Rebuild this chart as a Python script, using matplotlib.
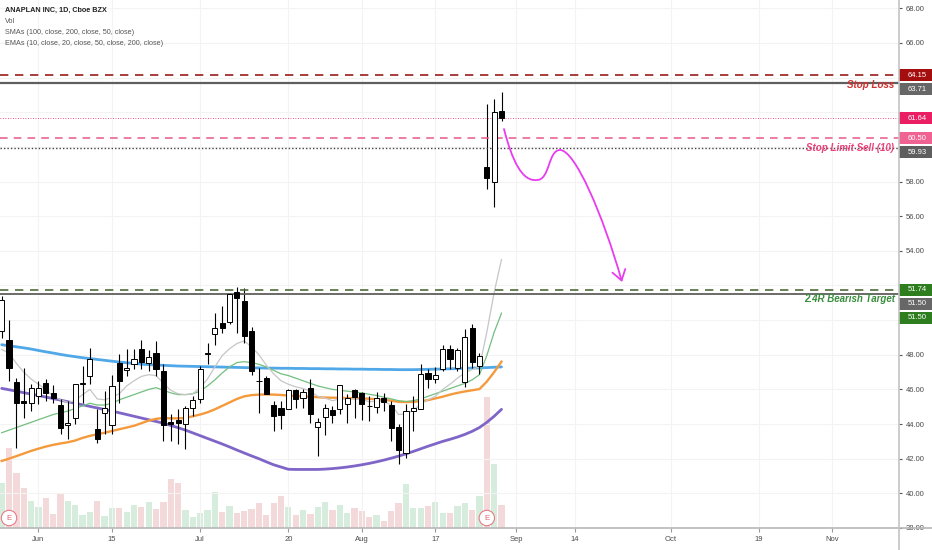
import numpy as np
import matplotlib.pyplot as plt
import matplotlib.transforms as mtransforms
from matplotlib.patches import Rectangle, FancyArrowPatch
from matplotlib.path import Path
from matplotlib.lines import Line2D

plt.rcParams['font.family'] = ['Liberation Sans', 'DejaVu Sans']

# ---- daily bars (22 May .. 28 Aug 2020), one entry per trading day ----
opens = [49.36, 48.84, 46.42, 45.33, 45.19, 45.62, 46.38, 45.77, 45.10, 43.94,
         44.37, 46.33, 46.77, 43.70, 44.66, 43.94, 47.54, 47.10, 47.48, 48.36,
         47.54, 48.08, 47.06, 44.12, 44.21, 44.02, 44.94, 45.46, 48.06, 49.21,
         49.84, 49.88, 51.63, 51.09, 49.40, 46.50, 46.67, 45.08, 44.94, 44.88,
         45.96, 45.52, 46.06, 43.85, 44.41, 44.79, 44.85, 45.14, 45.94, 45.81,
         45.06, 45.00, 45.52, 45.10, 43.83, 42.31, 44.75, 44.85, 46.92, 46.58,
         47.15, 48.31, 47.21, 46.42, 49.55, 47.34, 58.82, 57.95, 62.08]
highs = [51.40, 50.03, 46.67, 47.25, 46.29, 46.48, 46.58, 46.23, 45.42, 45.33,
         46.30, 47.35, 48.40, 44.85, 45.90, 46.86, 48.02, 48.34, 48.34, 48.88,
         48.30, 48.82, 47.44, 44.56, 44.85, 45.04, 45.62, 47.35, 48.69, 50.42,
         50.80, 51.57, 51.90, 51.86, 49.60, 47.25, 46.77, 45.33, 45.33, 46.00,
         46.00, 46.00, 46.58, 44.37, 45.14, 45.04, 46.25, 45.71, 46.00, 45.87,
         45.62, 45.85, 45.81, 45.33, 43.98, 45.14, 45.62, 47.44, 47.15, 47.29,
         48.56, 48.56, 48.40, 49.46, 49.78, 48.11, 62.47, 62.76, 63.16]
lows = [48.98, 46.48, 42.64, 44.37, 44.75, 45.14, 45.33, 45.23, 43.41, 43.12,
        43.98, 45.23, 46.29, 42.93, 43.41, 43.41, 45.23, 46.77, 47.15, 47.15,
        47.06, 46.77, 43.02, 43.02, 42.83, 42.54, 44.46, 45.23, 47.44, 48.59,
        49.26, 49.75, 49.27, 48.69, 46.86, 44.66, 45.71, 43.60, 43.70, 44.85,
        44.94, 44.90, 44.08, 42.16, 43.37, 44.08, 44.60, 44.08, 44.37, 44.21,
        44.18, 44.66, 44.75, 43.02, 41.68, 42.06, 43.60, 44.85, 46.10, 46.38,
        47.06, 47.15, 47.06, 46.13, 47.25, 46.90, 57.58, 56.51, 61.47]
closes = [51.19, 47.25, 45.19, 45.19, 46.06, 46.06, 45.81, 45.52, 43.79, 44.08,
          46.29, 46.38, 47.73, 43.16, 44.94, 46.19, 46.48, 47.25, 47.77, 47.60,
          47.86, 47.15, 43.94, 44.02, 44.08, 44.90, 45.39, 47.15, 48.10, 49.55,
          49.55, 51.48, 51.28, 49.07, 47.06, 46.46, 45.75, 44.46, 44.50, 45.94,
          45.46, 45.85, 44.56, 44.14, 44.90, 44.52, 46.25, 45.48, 45.56, 45.14,
          45.02, 45.48, 45.29, 43.79, 42.48, 44.75, 44.90, 46.90, 46.58, 46.83,
          48.31, 47.73, 48.25, 49.02, 47.60, 47.92, 58.20, 61.99, 61.64]
# volume, millions of shares
volume = [4.5, 8.0, 5.5, 4.0, 2.7, 2.1, 3.0, 1.4, 3.4, 2.7,
          2.3, 1.3, 1.6, 2.7, 1.2, 2.0, 2.0, 1.6, 2.3, 2.1,
          2.6, 1.9, 2.6, 4.9, 4.5, 1.8, 1.1, 1.5, 1.8, 3.6,
          1.6, 2.2, 1.5, 1.7, 1.9, 2.5, 1.3, 2.5, 3.2, 2.1,
          1.3, 1.8, 1.4, 2.1, 2.6, 1.8, 2.3, 1.5, 2.0, 1.7,
          1.1, 1.3, 0.7, 1.7, 2.5, 4.4, 2.0, 2.0, 2.2, 2.6,
          1.5, 1.5, 2.2, 2.5, 1.8, 3.2, 13.1, 6.4, 2.3]

# moving averages
sma_blue = [48.58, 48.52, 48.46, 48.40, 48.33, 48.25, 48.17, 48.10, 48.02, 47.95,
            47.89, 47.83, 47.78, 47.73, 47.68, 47.63, 47.58, 47.54, 47.50, 47.46,
            47.43, 47.41, 47.39, 47.37, 47.35, 47.34, 47.33, 47.32, 47.31, 47.30,
            47.29, 47.28, 47.27, 47.26, 47.25, 47.24, 47.23, 47.23, 47.22, 47.22,
            47.21, 47.21, 47.20, 47.20, 47.19, 47.19, 47.18, 47.18, 47.17, 47.17,
            47.16, 47.16, 47.15, 47.15, 47.14, 47.14, 47.14, 47.15, 47.16, 47.17,
            47.18, 47.19, 47.20, 47.22, 47.23, 47.24, 47.26, 47.28, 47.30]
sma_purple = [46.06, 45.98, 45.90, 45.81, 45.73, 45.65, 45.56, 45.47, 45.38, 45.29,
              45.20, 45.11, 45.02, 44.93, 44.84, 44.75, 44.65, 44.55, 44.45, 44.35,
              44.25, 44.15, 44.05, 43.92, 43.79, 43.65, 43.49, 43.33, 43.17, 43.01,
              42.85, 42.68, 42.50, 42.33, 42.16, 42.00, 41.82, 41.65, 41.52, 41.39,
              41.38, 41.38, 41.38, 41.38, 41.40, 41.43, 41.47, 41.52, 41.58, 41.65,
              41.73, 41.82, 41.92, 42.03, 42.15, 42.28, 42.42, 42.57, 42.72, 42.86,
              43.00, 43.12, 43.25, 43.40, 43.58, 43.80, 44.10, 44.45, 44.85]
ema_orange = [41.87, 42.00, 42.15, 42.30, 42.45, 42.58, 42.70, 42.80, 42.88, 42.95,
              43.05, 43.20, 43.32, 43.41, 43.50, 43.60, 43.70, 43.80, 43.90, 44.05,
              44.20, 44.30, 44.35, 44.33, 44.33, 44.35, 44.45, 44.55, 44.68, 44.85,
              45.05, 45.25, 45.45, 45.60, 45.67, 45.70, 45.71, 45.70, 45.68, 45.65,
              45.62, 45.60, 45.58, 45.55, 45.53, 45.52, 45.52, 45.50, 45.50, 45.48,
              45.46, 45.43, 45.40, 45.35, 45.28, 45.27, 45.28, 45.32, 45.38, 45.48,
              45.58, 45.70, 45.80, 45.88, 45.95, 46.02, 46.45, 47.00, 47.60]
ema_green = [43.50, 43.65, 43.80, 43.95, 44.10, 44.25, 44.40, 44.55, 44.65, 44.75,
             44.90, 45.05, 45.20, 45.10, 45.10, 45.20, 45.40, 45.55, 45.70, 45.85,
             46.00, 46.10, 45.95, 45.80, 45.70, 45.70, 45.75, 45.90, 46.20, 46.55,
             46.95, 47.30, 47.55, 47.60, 47.55, 47.45, 47.30, 47.10, 46.90, 46.80,
             46.65, 46.50, 46.35, 46.20, 46.10, 46.00, 45.95, 45.90, 45.85, 45.80,
             45.72, 45.65, 45.55, 45.45, 45.35, 45.30, 45.35, 45.45, 45.60, 45.75,
             45.90, 46.05, 46.20, 46.35, 46.55, 46.85, 47.95, 49.30, 50.40]
ema_gray = [48.30, 48.10, 47.50, 47.00, 46.60, 46.30, 46.00, 45.60, 45.40, 45.25,
            45.35, 45.70, 46.00, 45.45, 45.40, 45.55, 45.75, 46.20, 46.50, 46.75,
            46.85, 46.80, 46.35, 45.95, 45.75, 45.70, 45.75, 46.10, 46.60, 47.30,
            47.95, 48.35, 48.65, 48.80, 48.45, 48.00, 47.40, 46.90, 46.50, 46.30,
            46.15, 46.05, 45.90, 45.60, 45.50, 45.35, 45.45, 45.45, 45.45, 45.40,
            45.30, 45.30, 45.30, 45.10, 44.55, 44.60, 44.80, 45.15, 45.40, 45.60,
            46.00, 46.30, 46.65, 46.95, 47.15, 47.30, 49.30, 51.60, 53.50]

earnings_bars = [1, 66]

tick_pos = [5, 15, 27, 39, 49, 59, 70, 78, 91, 103, 113]
tick_txt = ['Jun', '15', 'Jul', '20', 'Aug', '17', 'Sep', '14', 'Oct', '19', 'Nov']
price_ticks = np.arange(38, 69, 2)

# horizontal levels: value, line colour, style, width, axis label colour
levels = [
    (64.15, '#9a1c1c', (0, (5, 4)), 1.2, '#a50e0e'),
    (63.71, '#5f5f5f', '-', 1.6, '#676767'),
    (61.64, '#e91e63', (0, (1, 2)), 0.6, '#e91e63'),
    (60.50, '#e8588c', (0, (5, 4)), 1.1, '#f06292'),
    (59.93, '#444444', (0, (1, 1.5)), 1.0, '#5e5e5e'),
    (51.74, '#4f6b3c', (0, (5, 4)), 1.2, '#2e7d1f'),
    (51.50, '#5f5f5f', '-', 1.3, '#676767'),
]
extra_label = (51.50, '#2e7d1f')

# hand drawn projection arrow (bar index, price)
arrow_pts = [(68.34, 61.03), (69.43, 59.24), (70.79, 57.97), (72.83, 58.09),
             (74.60, 58.09), (74.33, 59.82), (75.96, 59.82),
             (78.00, 59.82), (81.81, 56.07), (84.40, 52.20)]

W, H = 932, 550
plot_w, plot_h, plot_b = 899, 528, 22
fig = plt.figure(figsize=(W / 100, H / 100), dpi=100)
rect = [0, plot_b / H, plot_w / W, plot_h / H]
axv = fig.add_axes(rect)
ax = fig.add_axes(rect)
ax.set_facecolor('none')

bar_px = 7.35
xlim = (-1.7 / bar_px, (plot_w - 1.7) / bar_px)
ylim = (38.0, 68.48)
px_per = plot_h / (ylim[1] - ylim[0])
idx = np.arange(len(opens))
o = np.array(opens); h = np.array(highs); l = np.array(lows); c = np.array(closes)
up = c >= o

# volume pane
axv.set_xlim(xlim)
axv.set_ylim(0, max(volume) * plot_h / 131)
axv.bar(idx, volume, width=0.85, color=np.where(up, '#d6ecdd', '#f4d9da'), zorder=1)
axv.axis('off')

ax.set_xlim(xlim)
ax.set_ylim(ylim)

# moving averages
ax.plot(idx, sma_purple, color='#7f65c8', lw=2.0, zorder=2, solid_capstyle='round')
ax.plot(idx, sma_blue, color='#50a8e8', lw=2.0, zorder=2, solid_capstyle='round')
ax.plot(idx, ema_orange, color='#f59a3c', lw=1.7, zorder=2)
ax.plot(idx, ema_green, color='#72bf80', lw=0.9, zorder=2)
ax.plot(idx, ema_gray, color='#c6c6c6', lw=0.9, zorder=2)

# candles
body_lo = np.minimum(o, c)
body_hi = np.maximum(o, c)
ax.vlines(idx, l, body_lo, color='black', lw=0.8, zorder=3)
ax.vlines(idx, body_hi, h, color='black', lw=0.8, zorder=3)
ax.bar(idx, body_hi - body_lo, bottom=body_lo, width=0.7,
       color=np.where(up, 'white', 'black'), edgecolor='black', linewidth=0.7, zorder=4)

# level lines
for val, col, ls, lw, _ in levels:
    ax.axhline(val, color=col, ls=ls, lw=lw, zorder=3)

blend = mtransforms.blended_transform_factory(ax.transAxes, ax.transData)

def shifted(dy_px):
    return blend + mtransforms.ScaledTranslation(0, -dy_px / 100, fig.dpi_scale_trans)

txt_kw = dict(fontsize=7, fontweight='bold', fontstyle='italic', ha='right', va='center', zorder=6)
ax.text(0.9944, 63.71, 'Stop Loss', color='#d32f2f', transform=shifted(2.5), **txt_kw)
ax.text(0.9944, 59.93, 'Stop Limit Sell (10)', color='#ec407a', transform=blend, **txt_kw)
ax.text(0.9955, 51.50, '2.4R Bearish Target', color='#388e3c', transform=shifted(5), **txt_kw)

# arrow
codes = [Path.MOVETO] + [Path.CURVE4] * (len(arrow_pts) - 1)
arrow = FancyArrowPatch(path=Path(arrow_pts, codes), arrowstyle='->,head_length=0.45,head_width=0.3',
                        mutation_scale=16, color='#e83cf0', lw=1.3, zorder=5)
ax.add_patch(arrow)

# earnings markers
bottom_blend = mtransforms.blended_transform_factory(ax.transData, ax.transAxes)
for e in earnings_bars:
    ax.text(e, 10 / plot_h, 'E', transform=bottom_blend, ha='center', va='center', fontsize=5.5,
            color='#e06070', zorder=6,
            bbox=dict(boxstyle='circle,pad=0.55', fc='white', ec='#e57b86', lw=0.8))

# price labels on the scale, pushed down when they overlap
box_h = 12 / px_per
labels = [(v, lc) for v, _, _, _, lc in levels] + [extra_label]
labels.sort(key=lambda t: -t[0])
prev_y = -100
box_centres = []
for val, col in labels:
    y_px = (ylim[1] - val) * px_per
    y_draw = max(y_px, prev_y + 14)
    prev_y = y_draw
    box_centres.append(y_draw)
    tr = shifted(y_draw - y_px)
    ax.add_patch(Rectangle((1.0, val - box_h / 2), (W - plot_w) / plot_w, box_h, transform=tr,
                           clip_on=False, fc=col, ec='none', zorder=7))
    ax.text(1.0 + (W - plot_w) / plot_w / 2 + 0.002, val, '%.2f' % val, transform=tr, ha='center',
            va='center', fontsize=5.5, color='white', zorder=8, clip_on=False)

# scale labels hidden behind the price boxes are left blank
tick_lbl = []
for t in price_ticks:
    t_px = (ylim[1] - t) * px_per
    covered = any(abs(t_px - bc) < 11 for bc in box_centres)
    tick_lbl.append('' if covered else '%.2f' % t)

# axes styling
ax.set_yticks(price_ticks, tick_lbl)
ax.yaxis.tick_right()
ax.set_xticks(tick_pos, tick_txt)
ax.tick_params(axis='y', length=2.5, pad=2.5, labelsize=5.5, colors='#555555', labelcolor='#4a4a4a')
ax.tick_params(axis='x', length=3, pad=3, labelsize=5.5, colors='#999999', labelcolor='#4a4a4a')
ax.grid(True, color='#f3f3f3', lw=0.8)
for s in ['left', 'top', 'right', 'bottom']:
    ax.spines[s].set_visible(False)
fig.add_artist(Line2D([0, 1], [plot_b / H] * 2, color='#b8b8b8', lw=1.2))
fig.add_artist(Line2D([plot_w / W] * 2, [0, 1], color='#c4c4c4', lw=1.2))

# header
header = ['ANAPLAN INC, 1D, Cboe BZX', 'Vol', 'SMAs (100, close, 200, close, 50, close)',
          'EMAs (10, close, 20, close, 50, close, 200, close)']
for i, t in enumerate(header):
    fig.text(5 / W, 1 - (10.7 + 11 * i) / H, t, fontsize=5.2, va='center',
             color='#222222' if i == 0 else '#555555', fontweight='bold' if i == 0 else 'normal')

fig.savefig('out.png', dpi=100)
